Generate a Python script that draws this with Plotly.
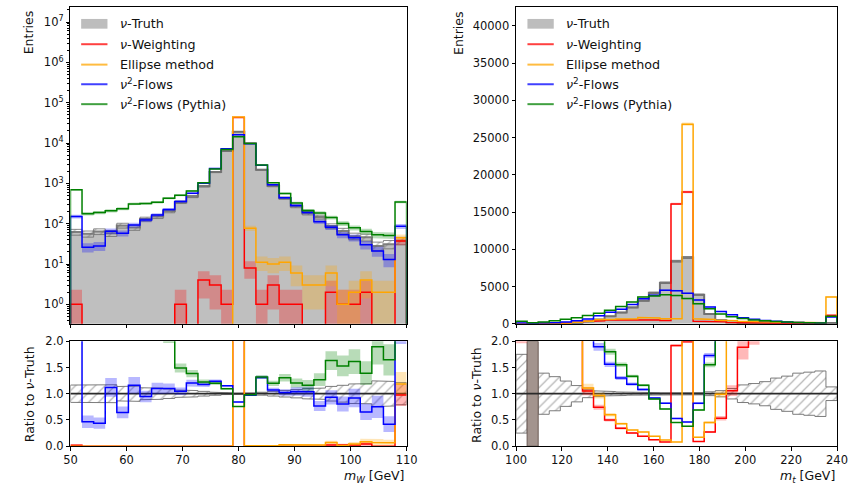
import numpy as np
import plotly.graph_objects as go

# ---------------- data ----------------
mw_edges = np.linspace(50, 110, 30)     # 29 bins
mt_edges = np.linspace(100, 240, 30)    # 29 bins

mw_truth = [62, 56, 64, 58, 90, 80, 130, 150, 205, 340, 470, 850, 1900, 6300, 19000, 9900,
            2160, 860, 430, 270, 182, 146, 87, 66, 49, 46, 28, 31, 38]
mw_nuweight = [1, 0, 0, 0, 0, 0, 0, 0, 0, 1, 0, 4, 3, 1, 43000, 8,
               1, 3, 1, 1, 0, 0, 2, 1, 1, 2, 0, 0, 37]
mw_ellipse = [0, 0, 0, 0, 0, 0, 0, 0, 0, 0, 0, 0, 0, 0, 44000, 77,
              11, 10, 11, 6, 3, 3, 6, 1, 2, 4, 2, 2, 45]
mw_flows = [150, 26, 28, 65, 58, 93, 123, 165, 225, 356, 565, 1000, 2350, 7250, 16000, 9600,
            2830, 920, 440, 282, 189, 112, 81, 53, 45, 30, 21, 13, 86]
mw_flows_py = [690, 177, 188, 209, 234, 309, 318, 339, 430, 506, 650, 1040, 2280, 6900, 14400, 9700,
               2850, 1030, 560, 325, 211, 185, 142, 101, 79, 64, 53, 51, 345]

mt_truth = [3, 0, 11, 16, 29, 70, 300, 560, 1000, 1500, 2200, 3100, 4150, 5500, 8400, 8900,
            3900, 1300, 480, 170, 60, 45, 32, 19, 15, 11, 10, 9, 100]
mt_nuweight = [10, 5, 35, 50, 90, 200, 315, 415, 500, 510, 550, 590, 500, 440, 16100, 17700,
               350, 350, 255, 180, 113, 100, 80, 60, 50, 40, 30, 30, 1130]
mt_ellipse = [12, 10, 35, 50, 80, 200, 333, 540, 600, 645, 680, 840, 790, 660, 670, 26800,
              660, 585, 475, 420, 350, 300, 260, 220, 200, 180, 160, 150, 3600]
mt_flows = [100, 50, 100, 150, 250, 400, 650, 1060, 1560, 1950, 2600, 3350, 3820, 4510, 4450, 4090,
            3200, 2250, 1650, 1220, 800, 600, 430, 330, 250, 180, 130, 100, 900]
mt_flows_py = [350, 150, 250, 400, 600, 800, 1100, 1400, 1800, 2330, 2930, 3600, 3735, 3900, 3780, 3380,
               2690, 2015, 1300, 950, 700, 520, 400, 300, 230, 170, 130, 100, 1000]

legend_labels = ["<i>ν</i>-Truth", "<i>ν</i>-Weighting", "Ellipse method",
                 "<i>ν</i><sup>2</sup>-Flows", "<i>ν</i><sup>2</sup>-Flows (Pythia)"]
ERR_SCALE = 1.3   # statistical uncertainty scale (weighted events)

# ---------------- style ----------------
FONT = "DejaVu Sans"
C_RED, C_ORA, C_BLU, C_GRN = "#ff0000", "#ffa500", "#0000ff", "#008000"
BAND_A = 0.28
def rgba(h, a):
    h = h.lstrip("#")
    return f"rgba({int(h[0:2],16)},{int(h[2:4],16)},{int(h[4:6],16)},{a})"

W, H = 860, 494
XL = [61 / W, 406 / W]
XR = [518.3 / W, 847.7 / W]
YT = [(H - 326) / H, 1.0]
YB = [(H - 452) / H, (H - 344) / H]

fig = go.Figure()

HATCH = dict(shape="/", fgcolor="#6e6e6e", bgcolor="rgba(0,0,0,0)", size=7, solidity=0.18,
             fillmode="overlay")


def step(edges, vals, base):
    xs, ys = [edges[0]], [base]
    for i, v in enumerate(vals):
        xs += [edges[i], edges[i + 1]]
        ys += [v, v]
    xs.append(edges[-1]); ys.append(base)
    return xs, ys


def step_nan(edges, vals):
    xs, ys = [], []
    for i, v in enumerate(vals):
        xs += [edges[i], edges[i + 1]]
        ys += [v, v]
    return xs, ys


def band_poly(edges, lo, hi):
    """closed step polygons for contiguous valid bins; segments separated by None"""
    xs, ys = [], []
    n = len(lo)
    i = 0
    while i < n:
        if lo[i] is None or np.isnan(lo[i]):
            i += 1
            continue
        j = i
        while j < n and not (lo[j] is None or np.isnan(lo[j])):
            j += 1
        ux, uy, lx, ly = [], [], [], []
        for k in range(i, j):
            ux += [edges[k], edges[k + 1]]; uy += [hi[k], hi[k]]
        for k in range(j - 1, i - 1, -1):
            lx += [edges[k + 1], edges[k]]; ly += [lo[k], lo[k]]
        if xs:
            xs.append(None); ys.append(None)
        xs += ux + lx + [ux[0]]
        ys += uy + ly + [uy[0]]
        i = j
    return xs, ys


def add_panel(edges, truth, series, xa, ya, xa_r, ya_r, logy):
    truth = np.array(truth, float)
    floor = 1e-3 if logy else 0.0
    tplot = np.where(truth > 0, truth, floor)
    # truth filled histogram
    xs, ys = step(edges, tplot, floor)
    fig.add_trace(go.Scatter(x=xs, y=ys, mode="lines", fill="toself",
                             fillcolor="#bfbfbf", line=dict(color="#7f7f7f", width=2),
                             xaxis=xa, yaxis=ya, hoverinfo="skip"))
    terr = ERR_SCALE * np.sqrt(truth)
    lo = np.maximum(truth - terr, floor); hi = truth + terr
    xs, ys = band_poly(edges, lo, hi)
    fig.add_trace(go.Scatter(x=xs, y=ys, mode="lines", fill="toself",
                             fillcolor="rgba(0,0,0,0)", fillpattern=HATCH,
                             line=dict(color="rgba(110,110,110,0.8)", width=1),
                             xaxis=xa, yaxis=ya, hoverinfo="skip"))
    # ratio truth band
    with np.errstate(divide="ignore", invalid="ignore"):
        rel = np.where(truth > 0, terr / truth, np.nan)
    xs, ys = band_poly(edges, 1 - rel, 1 + rel)
    fig.add_trace(go.Scatter(x=xs, y=ys, mode="lines", fill="toself",
                             fillcolor="rgba(0,0,0,0)", fillpattern=HATCH,
                             line=dict(color="rgba(110,110,110,0.9)", width=1),
                             xaxis=xa_r, yaxis=ya_r, hoverinfo="skip"))
    # undefined ratio (empty truth bins)
    for i in range(len(truth)):
        if truth[i] == 0:
            fig.add_trace(go.Scatter(x=[edges[i], edges[i + 1], edges[i + 1], edges[i], edges[i]],
                                     y=[0, 0, 2, 2, 0], mode="lines", fill="toself",
                                     fillcolor="#a3948e", line=dict(color="#6b5b55", width=1),
                                     xaxis=xa_r, yaxis=ya_r, hoverinfo="skip"))
    # unity line
    fig.add_trace(go.Scatter(x=[edges[0], edges[-1]], y=[1, 1], mode="lines",
                             line=dict(color="#2a2a2a", width=1.8),
                             xaxis=xa_r, yaxis=ya_r, hoverinfo="skip"))
    # series bands
    for vals, col in series:
        v = np.array(vals, float)
        e = ERR_SCALE * np.sqrt(v)
        lo = np.maximum(v - e, floor); hi = v + e
        keep = v > 0
        lo2 = np.where(keep, lo, np.nan); hi2 = np.where(keep, hi, np.nan)
        xs, ys = band_poly(edges, lo2, hi2)
        fig.add_trace(go.Scatter(x=xs, y=ys, mode="lines", fill="toself",
                                 fillcolor=rgba(col, BAND_A), line=dict(width=0),
                                 xaxis=xa, yaxis=ya, hoverinfo="skip"))
        with np.errstate(divide="ignore", invalid="ignore"):
            rlo = np.where(truth > 0, (v - e) / truth, np.nan)
            rhi = np.where(truth > 0, (v + e) / truth, np.nan)
        rlo = np.clip(rlo, -1, 5); rhi = np.clip(rhi, -1, 5)
        xs, ys = band_poly(edges, rlo, rhi)
        fig.add_trace(go.Scatter(x=xs, y=ys, mode="lines", fill="toself",
                                 fillcolor=rgba(col, BAND_A), line=dict(width=0),
                                 xaxis=xa_r, yaxis=ya_r, hoverinfo="skip"))
    # series lines
    for vals, col in series:
        v = np.array(vals, float)
        vp = np.where(v > 0, v, floor)
        xs, ys = step(edges, vp, floor)
        fig.add_trace(go.Scatter(x=xs, y=ys, mode="lines", line=dict(color=col, width=1.5),
                                 xaxis=xa, yaxis=ya, hoverinfo="skip"))
        with np.errstate(divide="ignore", invalid="ignore"):
            r = np.where(truth > 0, v / truth, np.nan)
        r = np.clip(r, -1, 5)
        xs, ys = step_nan(edges, r)
        fig.add_trace(go.Scatter(x=xs, y=ys, mode="lines", line=dict(color=col, width=1.5),
                                 xaxis=xa_r, yaxis=ya_r, hoverinfo="skip"))


add_panel(mw_edges, mw_truth,
          [(mw_nuweight, C_RED), (mw_ellipse, C_ORA), (mw_flows, C_BLU), (mw_flows_py, C_GRN)],
          "x", "y", "x2", "y2", True)
add_panel(mt_edges, mt_truth,
          [(mt_nuweight, C_RED), (mt_ellipse, C_ORA), (mt_flows, C_BLU), (mt_flows_py, C_GRN)],
          "x3", "y3", "x4", "y4", False)

# ---------------- axes ----------------
tickfont = dict(family=FONT, size=11.5, color="#111")
base_ax = dict(showline=True, linecolor="black", linewidth=1, mirror=True, ticks="outside",
               ticklen=3.5, tickwidth=1, tickcolor="black", showgrid=False, zeroline=False,
               tickfont=tickfont)

log_minor = [m * 10 ** d for d in range(-1, 8) for m in range(2, 10)]
fig.update_layout(
    xaxis=dict(base_ax, domain=XL, anchor="y", range=[50, 110], tickvals=list(range(50, 111, 10)),
               showticklabels=False),
    yaxis=dict(base_ax, domain=YT, anchor="x", type="log", range=[-0.482, 7.373],
               tickvals=[10 ** k for k in range(0, 8)],
               ticktext=[f"10<sup>{k}</sup>" for k in range(0, 8)],
               minor=dict(tickvals=log_minor, ticks="outside", ticklen=2, tickcolor="black")),
    xaxis2=dict(base_ax, domain=XL, anchor="y2", range=[50, 110], tickvals=list(range(50, 111, 10))),
    yaxis2=dict(base_ax, domain=YB, anchor="x2", range=[0, 2], tickvals=[0, 0.5, 1, 1.5, 2],
                ticktext=["0.0", "0.5", "1.0", "1.5", "2.0"]),
    xaxis3=dict(base_ax, domain=XR, anchor="y3", range=[100, 240], tickvals=list(range(100, 241, 20)),
                showticklabels=False),
    yaxis3=dict(base_ax, domain=YT, anchor="x3", range=[0, 42540],
                tickvals=list(range(0, 40001, 5000)), ticktext=[str(v) for v in range(0, 40001, 5000)]),
    xaxis4=dict(base_ax, domain=XR, anchor="y4", range=[100, 240], tickvals=list(range(100, 241, 20))),
    yaxis4=dict(base_ax, domain=YB, anchor="x4", range=[0, 2], tickvals=[0, 0.5, 1, 1.5, 2],
                ticktext=["0.0", "0.5", "1.0", "1.5", "2.0"]),
    width=W, height=H, margin=dict(l=0, r=0, t=0, b=0),
    paper_bgcolor="white", plot_bgcolor="rgba(0,0,0,0)", showlegend=False,
    font=dict(family=FONT, color="#111"),
)

# ---------------- labels ----------------
def px(x, y):
    return x / W, 1 - y / H

ann = []
lab_font = dict(family=FONT, size=12.5, color="#111")
for xc in (18, 459):
    x, y = px(xc, 26.5)
    ann.append(dict(text="Entries", x=x, y=y, xref="paper", yref="paper", textangle=-90,
                    showarrow=False, font=lab_font, xanchor="center", yanchor="middle"))
for xc in (19, 477.5):
    x, y = px(xc, 399)
    ann.append(dict(text="Ratio to <i>ν</i>-Truth", x=x, y=y, xref="paper", yref="paper", textangle=-90,
                    showarrow=False, font=lab_font, xanchor="center", yanchor="middle"))
x, y = px(406, 483)
ann.append(dict(text="<i>m</i><sub><i>W</i></sub> [GeV]", x=x, y=y, xref="paper", yref="paper",
                showarrow=False, font=lab_font, xanchor="right", yanchor="middle"))
x, y = px(847.7, 483)
ann.append(dict(text="<i>m</i><sub><i>t</i></sub> [GeV]", x=x, y=y, xref="paper", yref="paper",
                showarrow=False, font=lab_font, xanchor="right", yanchor="middle"))

# custom legends
shapes = []
leg_cols = [None, C_RED, C_ORA, C_BLU, C_GRN]
leg_y = [17.3, 38.3, 59.3, 79.5, 100.0]
for (sx0, sx1, tx) in ((72, 99, 110), (530, 557, 567.7)):
    for lab, col, ly in zip(legend_labels, leg_cols, leg_y):
        x0, y0 = px(sx0, ly)
        x1, _ = px(sx1, ly)
        if col is None:
            _, ya = px(0, ly - 5); _, yb = px(0, ly + 5)
            shapes.append(dict(type="rect", xref="paper", yref="paper", x0=x0, x1=x1, y0=yb, y1=ya,
                               fillcolor="#bdbdbd", line=dict(width=0)))
        else:
            shapes.append(dict(type="line", xref="paper", yref="paper", x0=x0, x1=x1, y0=y0, y1=y0,
                               line=dict(color=rgba(col, 0.75), width=2)))
        xt, yt = px(tx, ly)
        ann.append(dict(text=lab, x=xt, y=yt, xref="paper", yref="paper", showarrow=False,
                        font=dict(family=FONT, size=12.7, color="#111"), xanchor="left", yanchor="middle"))

fig.update_layout(annotations=ann, shapes=shapes)
fig.write_html("out.html")
